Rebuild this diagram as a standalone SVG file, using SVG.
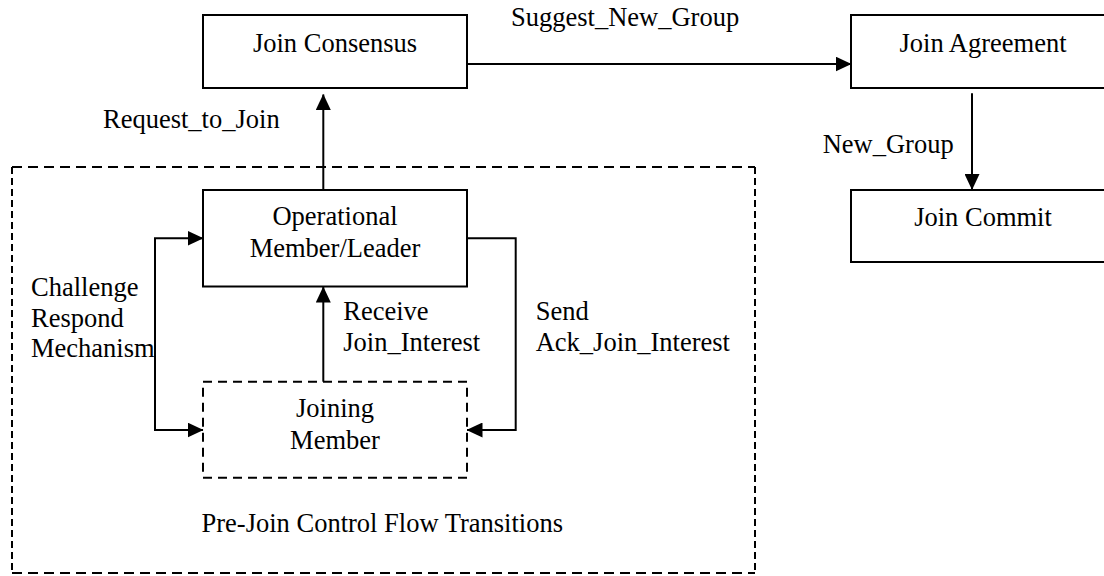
<svg xmlns="http://www.w3.org/2000/svg" width="1104" height="576" viewBox="0 0 1104 576">
  <style>
    text { font-family: "Liberation Serif", "Times New Roman", serif; font-size: 26.5px; fill: #000; }
    .c { text-anchor: middle; }
    .box { fill: #fff; stroke: #000; stroke-width: 2; }
    .dbox { fill: none; stroke: #000; stroke-width: 2; }
    .conn { fill: none; stroke: #000; stroke-width: 2; }
  </style>
  <defs>
    <marker id="arr" markerUnits="userSpaceOnUse" markerWidth="16" markerHeight="15" refX="15.5" refY="7.5" orient="auto-start-reverse">
      <path d="M0,0 L16,7.5 L0,15 z" fill="#000"/>
    </marker>
  </defs>
  <rect width="1104" height="576" fill="#fff"/>

  <g id="prejoin-group">
    <line class="dbox" x1="12" y1="167" x2="755" y2="167" stroke-dasharray="10 6"/>
    <line class="dbox" x1="12" y1="573" x2="755" y2="573" stroke-dasharray="10 6"/>
    <line class="dbox" x1="12" y1="167" x2="12" y2="573" stroke-dasharray="7 4"/>
    <line class="dbox" x1="755" y1="167" x2="755" y2="573" stroke-dasharray="7 4"/>
    <text x="201.5" y="532">Pre-Join Control Flow Transitions</text>
  </g>

  <g id="connectors">
    <line class="conn" x1="323.3" y1="190" x2="323.3" y2="94.5" marker-end="url(#arr)"/>
    <line class="conn" x1="467" y1="64" x2="851" y2="64" marker-end="url(#arr)"/>
    <line class="conn" x1="972" y1="93.3" x2="972" y2="189.5" marker-end="url(#arr)"/>
    <line class="conn" x1="323.3" y1="381.7" x2="323.3" y2="287" marker-end="url(#arr)"/>
    <path class="conn" d="M203,238.3 H155 V430 H203" marker-start="url(#arr)" marker-end="url(#arr)"/>
    <path class="conn" d="M467,238.3 H515.7 V430 H467" marker-end="url(#arr)"/>
    <text x="511" y="26">Suggest_New_Group</text>
    <text x="103" y="128">Request_to_Join</text>
    <text x="822.7" y="153">New_Group</text>
    <text x="31" y="296">Challenge</text>
    <text x="31" y="327">Respond</text>
    <text x="31" y="357">Mechanism</text>
    <text x="343.3" y="319.5">Receive</text>
    <text x="343.3" y="350.5">Join_Interest</text>
    <text x="535.7" y="319.5">Send</text>
    <text x="535.7" y="351">Ack_Join_Interest</text>
  </g>

  <g id="join-consensus">
    <rect class="box" x="203" y="15" width="264" height="73"/>
    <text class="c" x="335" y="52">Join Consensus</text>
  </g>

  <g id="join-agreement">
    <rect class="box" x="851" y="15" width="264" height="73"/>
    <text class="c" x="983" y="52">Join Agreement</text>
  </g>

  <g id="join-commit">
    <rect class="box" x="851" y="190" width="264" height="72"/>
    <text class="c" x="983" y="226">Join Commit</text>
  </g>

  <g id="operational-member">
    <rect class="box" x="203" y="190" width="264" height="96.5"/>
    <text class="c" x="335" y="225">Operational</text>
    <text class="c" x="335" y="257">Member/Leader</text>
  </g>

  <g id="joining-member">
    <rect class="dbox" x="203" y="381.7" width="264" height="96" stroke-dasharray="9 6"/>
    <text class="c" x="335" y="417">Joining</text>
    <text class="c" x="335" y="448.5">Member</text>
  </g>
</svg>
